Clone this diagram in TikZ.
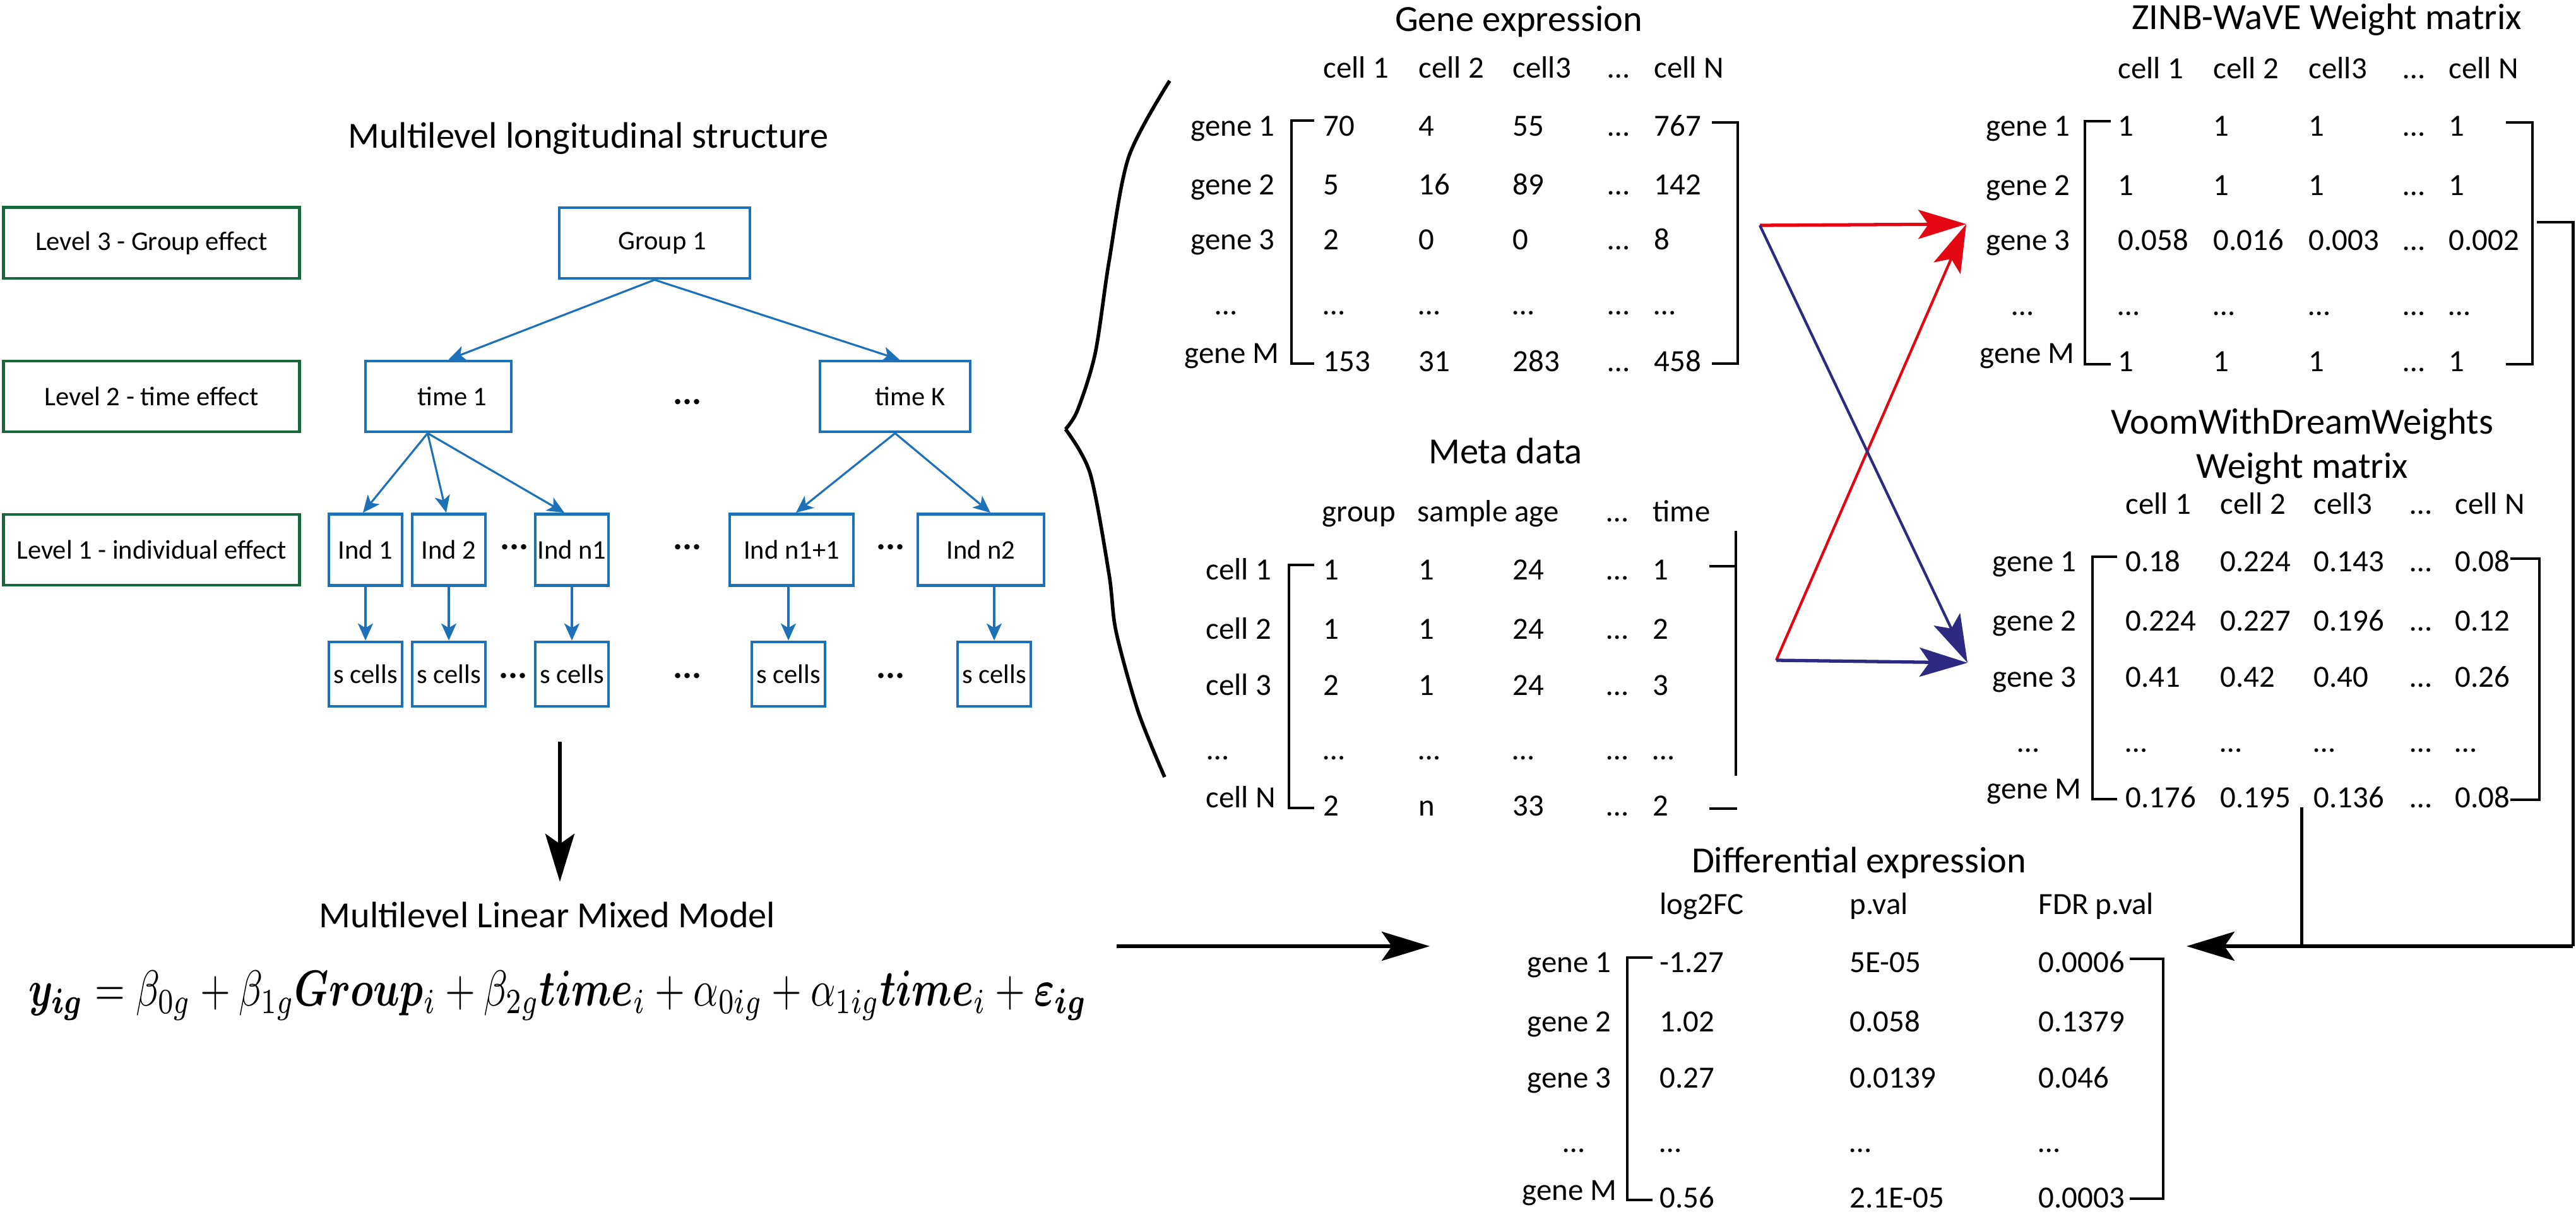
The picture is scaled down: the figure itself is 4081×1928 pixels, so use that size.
\documentclass[tikz,border=0pt]{standalone}
\usepackage{fontspec}
\setmainfont{Carlito}
\usepackage{amsmath,bm,graphicx}
\usetikzlibrary{arrows.meta,calc}
\definecolor{lvgreen}{HTML}{17683A}
\definecolor{treeblue}{HTML}{1D71B8}
\definecolor{arred}{HTML}{E30613}
\definecolor{arnavy}{HTML}{2E2A82}
\newcommand\mrow[3]{\foreach \xx/\vv [count=\cc] in {#3} {\node[tb] (#1\cc) at (\xx,#2) {\vv};}}
\begin{document}
\begin{tikzpicture}[x=0.01cm,y=-0.01cm,
  ttl/.style={font=\fontsize{16.6}{20}\selectfont, anchor=base, inner sep=0pt},
  tb/.style={font=\fontsize{13.9}{16}\selectfont, anchor=base west, inner sep=0pt},
  lvbox/.style={draw=lvgreen, line width=1.4pt, minimum width=4.69cm, minimum height=1.12cm, inner sep=0pt, font=\fontsize{12.1}{14}\selectfont},
  tbox/.style={draw=treeblue, line width=1.3pt, inner sep=0pt, font=\fontsize{12.1}{14}\selectfont},
  tarr/.style={draw=treeblue, line width=0.9pt, -{Stealth[length=0.27cm,width=0.24cm,inset=0.07cm]}},
  brk/.style={line width=0.9pt},
  dotsb/.style={font=\bfseries\fontsize{16}{17}\selectfont, inner sep=0pt},
  bigarr/.style={-{Stealth[length=0.76cm,width=0.46cm,inset=0.16cm]}},
]
\useasboundingbox (0,0) rectangle (4081,1928);

% ---------------- left: multilevel structure ----------------
\node[ttl] (mlstitle) at (932,235) {Multilevel longitudinal structure};

\node[lvbox] (lv3) at (240,385) {Level 3 - Group effect};
\node[lvbox] (lv2) at (240,628) {Level 2 - time effect};
\node[lvbox] (lv1) at (240,871) {Level 1 - individual effect};

\node[tbox, minimum width=3.02cm, minimum height=1.12cm] (g1) at (1037,385) {\hspace*{0.24cm}Group 1};
\node[tbox, minimum width=2.31cm, minimum height=1.12cm] (t1) at (694.5,628) {\hspace*{0.44cm}time 1};
\node[tbox, minimum width=2.38cm, minimum height=1.12cm] (tK) at (1418,628) {\hspace*{0.48cm}time K};

\node[tbox, minimum width=1.16cm, minimum height=1.13cm] (i1) at (579,871) {Ind 1};
\node[tbox, minimum width=1.16cm, minimum height=1.13cm] (i2) at (711,871) {Ind 2};
\node[tbox, minimum width=1.16cm, minimum height=1.13cm] (in1) at (906,871) {Ind n1};
\node[tbox, minimum width=1.96cm, minimum height=1.13cm] (in11) at (1254,871) {Ind n1+1};
\node[tbox, minimum width=2.00cm, minimum height=1.13cm] (in2) at (1554,871) {Ind n2};

\node[tbox, minimum width=1.16cm, minimum height=1.02cm] (s1) at (579,1068) {s cells};
\node[tbox, minimum width=1.16cm, minimum height=1.02cm] (s2) at (711,1068) {s cells};
\node[tbox, minimum width=1.16cm, minimum height=1.02cm] (s3) at (906,1068) {s cells};
\node[tbox, minimum width=1.16cm, minimum height=1.02cm] (s4) at (1249,1068) {s cells};
\node[tbox, minimum width=1.16cm, minimum height=1.02cm] (s5) at (1575,1068) {s cells};

\node[dotsb] (d1) at (1089,637) {...};
\node[dotsb] (d2) at (815,867) {...};
\node[dotsb] (d3) at (1089,867) {...};
\node[dotsb] (d4) at (1411,867) {...};
\node[dotsb] (d5) at (813,1071) {...};
\node[dotsb] (d6) at (1089,1071) {...};
\node[dotsb] (d7) at (1411,1071) {...};

\draw[tarr] (g1.south) -- ($(t1.north)+(16,0)$);
\draw[tarr] (g1.south) -- ($(tK.north)+(7,0)$);
\draw[tarr] ($(t1.south)+(-17,0)$) -- ($(i1.north)+(-4,0)$);
\draw[tarr] ($(t1.south)+(-17,0)$) -- ($(i2.north)+(-4,0)$);
\draw[tarr] ($(t1.south)+(-17,0)$) -- ($(in1.north)+(-12,0)$);
\draw[tarr] (tK.south) -- ($(in11.north)+(7,0)$);
\draw[tarr] (tK.south) -- ($(in2.north)+(15,0)$);
\draw[tarr] (i1.south) -- (s1.north);
\draw[tarr] (i2.south) -- (s2.north);
\draw[tarr] (in1.south) -- (s3.north);
\draw[tarr] (in11.south -| s4.north) -- (s4.north);
\draw[tarr] (in2.south -| s5.north) -- (s5.north);

% ---------------- model ----------------
\coordinate (dnA) at (887,1175);
\coordinate (dnB) at (887,1397);
\draw[line width=1.8pt, bigarr] (dnA) -- (dnB);
\node[ttl] (lmmtitle) at (867,1469) {Multilevel Linear Mixed Model};
\node[inner sep=0pt] (eq) at (884,1577) {\resizebox{16.76cm}{!}{\scalebox{1}[1.3]{$\bm{y_{ig}} = \beta_{0g} + \beta_{1g}\bm{Group}_{i} + \beta_{2g}\bm{time}_{i} + \alpha_{0ig} + \alpha_{1ig}\bm{time}_{i} + \bm{\varepsilon_{ig}}$}}};
\coordinate (hzA) at (1769,1499);
\coordinate (hzB) at (2265,1499);
\draw[line width=1.8pt, bigarr] (hzA) -- (hzB);

% ---------------- brace ----------------
\draw[line width=1.6pt] plot[smooth] coordinates {(1853,128) (1788,249) (1757,414) (1735,560) (1707,650) (1688,680)};
\draw[line width=1.6pt] plot[smooth] coordinates {(1688,680) (1727,750) (1757,910) (1768,1000) (1803,1127) (1845,1231)};

% ---------------- gene expression ----------------
\node[ttl] (getitle) at (2406,50) {Gene expression};
\mrow{geh}{124}{2096/cell 1,2247/cell 2,2396/cell3,2547/…,2620/cell N}
\node[tb] (gel1) at (1886,216) {gene 1};
\node[tb] (gel2) at (1886,309) {gene 2};
\node[tb] (gel3) at (1886,396) {gene 3};
\node[tb] (gel4) at (1925,499) {…};
\node[tb] (gel5) at (1876,576) {gene M};
\mrow{ger1}{216}{2096/70,2247/4,2396/55,2547/…,2620/767}
\mrow{ger2}{309}{2096/5,2247/16,2396/89,2547/…,2620/142}
\mrow{ger3}{396}{2096/2,2247/0,2396/0,2547/…,2620/8}
\mrow{ger4}{499}{2096/…,2247/…,2396/…,2547/…,2620/…}
\mrow{ger5}{589}{2096/153,2247/31,2396/283,2547/…,2620/458}
\draw[brk] (2082,191) -- (2046,191) -- (2046,576) -- (2082,576);
\draw[brk] (2712,194) -- (2753,194) -- (2753,576) -- (2712,576);

% ---------------- meta data ----------------
\node[ttl] (mdtitle) at (2385,735) {Meta data};
\mrow{mdh}{827}{2094/group,2245/sample age,2545/…,2618/time}
\node[tb] (mdl1) at (1910,919) {cell 1};
\node[tb] (mdl2) at (1910,1012) {cell 2};
\node[tb] (mdl3) at (1910,1101) {cell 3};
\node[tb] (mdl4) at (1912,1203) {…};
\node[tb] (mdl5) at (1910,1279) {cell N};
\mrow{mdr1}{919}{2096/1,2247/1,2396/24,2545/…,2618/1}
\mrow{mdr2}{1012}{2096/1,2247/1,2396/24,2545/…,2618/2}
\mrow{mdr3}{1101}{2096/2,2247/1,2396/24,2545/…,2618/3}
\mrow{mdr4}{1203}{2096/…,2247/…,2396/…,2545/…,2618/…}
\mrow{mdr5}{1292}{2096/2,2247/n,2396/33,2545/…,2618/2}
\draw[brk] (2082,895) -- (2042,895) -- (2042,1280) -- (2082,1280);
\draw[brk] (2708,897) -- (2750,897);
\draw[brk] (2750,841) -- (2750,1229);
\draw[brk] (2708,1281) -- (2752,1281);

% ---------------- ZINB-WaVE ----------------
\node[ttl] (zbtitle) at (3686,47) {ZINB-WaVE Weight matrix};
\mrow{zbh}{125}{3355/cell 1,3506/cell 2,3657/cell3,3807/…,3879/cell N}
\node[tb] (zbl1) at (3146,216) {gene 1};
\node[tb] (zbl2) at (3146,310) {gene 2};
\node[tb] (zbl3) at (3146,397) {gene 3};
\node[tb] (zbl4) at (3187,500) {…};
\node[tb] (zbl5) at (3136,576) {gene M};
\mrow{zbr1}{216}{3355/1,3506/1,3657/1,3807/…,3879/1}
\mrow{zbr2}{310}{3355/1,3506/1,3657/1,3807/…,3879/1}
\mrow{zbr3}{397}{3355/0.058,3506/0.016,3657/0.003,3807/…,3879/0.002}
\mrow{zbr4}{500}{3355/…,3506/…,3657/…,3807/…,3879/…}
\mrow{zbr5}{589}{3355/1,3506/1,3657/1,3807/…,3879/1}
\draw[brk] (3344,192) -- (3303,192) -- (3303,577) -- (3344,577);
\draw[brk] (3970,194) -- (4012,194) -- (4012,577) -- (3970,577);

% ---------------- Voom ----------------
\node[ttl] (vmtitle) at (3647,688) {VoomWithDreamWeights};
\node[ttl] (vmtitleb) at (3647,758) {Weight matrix};
\mrow{vmh}{815}{3367/cell 1,3517/cell 2,3665/cell3,3818/…,3889/cell N}
\node[tb] (vml1) at (3156,906) {gene 1};
\node[tb] (vml2) at (3156,999) {gene 2};
\node[tb] (vml3) at (3156,1088) {gene 3};
\node[tb] (vml4) at (3196,1191) {…};
\node[tb] (vml5) at (3147,1265) {gene M};
\mrow{vmr1}{906}{3367/0.18,3517/0.224,3665/0.143,3818/…,3889/0.08}
\mrow{vmr2}{999}{3367/0.224,3517/0.227,3665/0.196,3818/…,3889/0.12}
\mrow{vmr3}{1088}{3367/0.41,3517/0.42,3665/0.40,3818/…,3889/0.26}
\mrow{vmr4}{1191}{3367/…,3517/…,3665/…,3818/…,3889/…}
\mrow{vmr5}{1279}{3367/0.176,3517/0.195,3665/0.136,3818/…,3889/0.08}
\draw[brk] (3354,882) -- (3315,882) -- (3315,1266) -- (3354,1266);
\draw[brk] (3977,885) -- (4023,885) -- (4023,1267) -- (3977,1267);

% ---------------- Differential expression ----------------
\node[ttl] (detitle) at (2945,1382) {Differential expression};
\mrow{deh}{1448}{2629/log2FC,2930/p.val,3229/FDR p.val}
\node[tb] (del1) at (2419,1540) {gene 1};
\node[tb] (del2) at (2419,1634) {gene 2};
\node[tb] (del3) at (2419,1723) {gene 3};
\node[tb] (del4) at (2476,1825) {…};
\node[tb] (del5) at (2411,1901) {gene M};
\mrow{der1}{1540}{2629/-1.27,2930/5E-05,3229/0.0006}
\mrow{der2}{1634}{2629/1.02,2930/0.058,3229/0.1379}
\mrow{der3}{1723}{2629/0.27,2930/0.0139,3229/0.046}
\mrow{der4}{1825}{2629/…,2930/…,3229/…}
\mrow{der5}{1913}{2629/0.56,2930/2.1E-05,3229/0.0003}
\draw[brk] (2618,1517) -- (2578,1517) -- (2578,1901) -- (2618,1901);
\draw[brk] (3374,1519) -- (3427,1519) -- (3427,1899) -- (3374,1899);

% ---------------- weight arrows ----------------
\coordinate (gA) at (2788,357);
\coordinate (mB) at (2814,1046);
\coordinate (zT) at (3115,355);
\coordinate (vT) at (3117,1050);
\draw[arred, line width=1.5pt, bigarr] (gA) -- (zT);
\draw[arred, line width=1.2pt, bigarr] (mB) -- (zT);
\draw[arnavy, line width=1.2pt, bigarr] (gA) -- (vT);
\draw[arnavy, line width=1.5pt, bigarr] (mB) -- (vT);

% ---------------- connectors to DE ----------------
\coordinate (zr1) at (4019,352);
\coordinate (zr2) at (4076,352);
\coordinate (zr3) at (4076,1499);
\coordinate (deIn) at (3464,1499);
\coordinate (vb1) at (3646,1279);
\coordinate (vb2) at (3646,1499);
\draw[line width=1.4pt] (zr1) -- (zr2) -- (zr3);
\draw[line width=1.5pt, bigarr] (zr3) -- (deIn);
\draw[line width=1.4pt] (vb1) -- (vb2);
\end{tikzpicture}
\end{document}
